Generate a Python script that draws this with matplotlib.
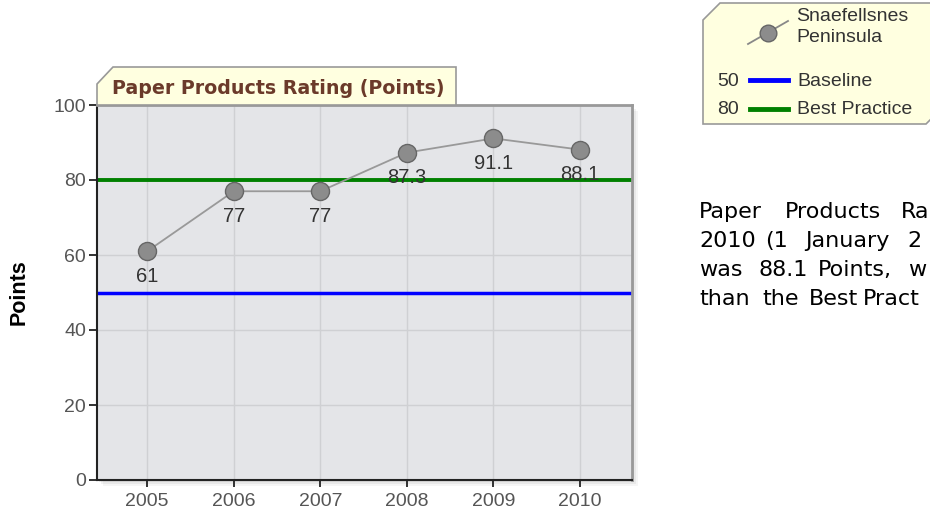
import matplotlib.pyplot as plt
from matplotlib.patches import Polygon, Rectangle

# chart data
years = [2005, 2006, 2007, 2008, 2009, 2010]
ratings = [61, 77, 77, 87.3, 91.1, 88.1]
baseline = 50
best_practice = 80
title = 'Paper Products Rating (Points)'
series_name = 'Snaefellsnes\nPeninsula'
# the summary paragraph is justified and runs off the right edge in the reference
summary_words = [['Paper', 'Products', 'Ra'],
                 ['2010', '(1', 'January', '2'],
                 ['was', '88.1', 'Points,', 'w'],
                 ['than', 'the', 'Best', 'Pract']]

W, H = 930, 521
fig = plt.figure(figsize=(W / 100, H / 100), dpi=100)


def fx(px):
    return px / W


def fy(py):
    return 1 - py / H


# soft shadow behind the plot area
for off, a in [(6, 0.04), (4, 0.05), (2, 0.07)]:
    fig.patches.append(Rectangle((fx(97 + off), fy(480 + off)), fx(632) - fx(97), fy(105) - fy(480),
                                 transform=fig.transFigure, facecolor='black', alpha=a,
                                 edgecolor='none', zorder=-5))

# main plot area
ax = fig.add_axes([fx(97), fy(480), fx(632) - fx(97), fy(105) - fy(480)])
ax.set_zorder(1)
ax.set_facecolor('#e4e5e8')
ax.set_xlim(2004.42, 2010.6)
ax.set_ylim(0, 100)
ax.set_xticks(years)
ax.set_yticks([0, 20, 40, 60, 80, 100])
ax.grid(True, color='#cfd0d3', linewidth=1)
ax.set_axisbelow(True)
for side in ['top', 'right']:
    ax.spines[side].set_color('#999999')
    ax.spines[side].set_linewidth(2)
for side in ['left', 'bottom']:
    ax.spines[side].set_color('#222222')
    ax.spines[side].set_linewidth(1.5)
ax.tick_params(colors='#222222', labelcolor='#555555', labelsize=14, length=6, width=1.3)
ax.tick_params(axis='x', pad=4, length=5)
ax.tick_params(axis='y', pad=2)
for lab in ax.get_xticklabels() + ax.get_yticklabels():
    lab.set_fontfamily('Liberation Sans')

# reference lines
ax.axhline(baseline, color='#0000ff', linewidth=2.5, zorder=2)
ax.axhline(best_practice, color='#008000', linewidth=2.8, zorder=2)

# series
ax.plot(years, ratings, color='#999999', linewidth=1.3, marker='o', markersize=13,
        markerfacecolor='#8c8c8c', markeredgecolor='#666666', markeredgewidth=1, zorder=3)
for x, v in zip(years, ratings):
    ax.annotate(f'{v:g}', (x, v), xytext=(0, -18), textcoords='offset points',
                ha='center', va='center', fontsize=14.5, color='#333333',
                family='Liberation Sans', zorder=4)

ax.set_ylabel('Points', fontsize=15.5, fontweight='bold', family='Liberation Sans')
ax.yaxis.set_label_coords(-(97 - 30) / (632 - 97), 0.5)

# title tab
tab = Polygon([(fx(97), fy(105)), (fx(97), fy(84)), (fx(113), fy(67)), (fx(456), fy(67)), (fx(456), fy(105))],
              closed=True, transform=fig.transFigure, facecolor='#ffffe0', edgecolor='#999999', linewidth=1.2)
fig.patches.append(tab)
fig.text(fx(278), fy(88), title, ha='center', va='center', fontsize=13.7, fontweight='bold',
         color='#6b3a2a', family='DejaVu Sans')

# legend box
leg = Polygon([(fx(703), fy(124)), (fx(703), fy(20)), (fx(720), fy(3)), (fx(931), fy(3)),
               (fx(931), fy(119)), (fx(926), fy(124))],
              closed=True, transform=fig.transFigure, facecolor='#ffffe0', edgecolor='#999999', linewidth=1.2)
fig.patches.append(leg)
fig.lines.append(plt.Line2D([fx(748), fx(788)], [fy(44), fy(21)], transform=fig.transFigure,
                            color='#888888', linewidth=1.3))
fig.lines.append(plt.Line2D([fx(768)], [fy(33)], transform=fig.transFigure, marker='o', markersize=12,
                            markerfacecolor='#8c8c8c', markeredgecolor='#666666'))
legend_font = dict(fontsize=14, color='#333333', family='Liberation Sans', va='center', ha='left')
fig.text(fx(796), fy(27), series_name, linespacing=1.3, **legend_font)
fig.text(fx(717), fy(81), str(baseline), **legend_font)
fig.lines.append(plt.Line2D([fx(750), fx(788)], [fy(80), fy(80)], transform=fig.transFigure,
                            color='#0000ff', linewidth=3.5))
fig.text(fx(797), fy(81), 'Baseline', **legend_font)
fig.text(fx(717), fy(110), str(best_practice), **legend_font)
fig.lines.append(plt.Line2D([fx(750), fx(788)], [fy(109), fy(109)], transform=fig.transFigure,
                            color='#008000', linewidth=3.5))
fig.text(fx(797), fy(110), 'Best Practice', **legend_font)

# summary paragraph, word by word to keep the justified spacing
word_x = [[699, 785, 901],
          [699, 765, 805, 907],
          [699, 758, 818, 908],
          [699, 762, 809, 863]]
baselines = [218, 247, 276, 305]
for words, xs, by in zip(summary_words, word_x, baselines):
    for w, px in zip(words, xs):
        fig.text(fx(px), fy(by), w, ha='left', va='baseline', fontsize=16,
                 color='#000000', family='DejaVu Sans')

fig.savefig('out.png', dpi=100)
